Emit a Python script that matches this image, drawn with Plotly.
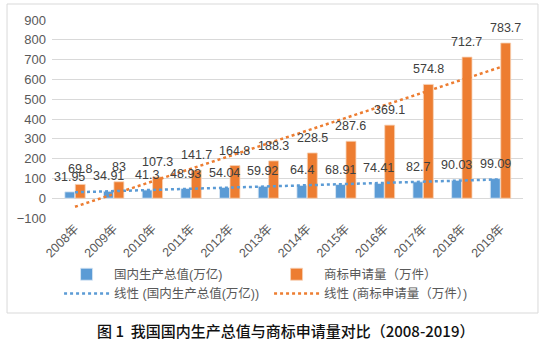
import numpy as np
import plotly.graph_objects as go

years = ["2008年", "2009年", "2010年", "2011年", "2012年", "2013年",
         "2014年", "2015年", "2016年", "2017年", "2018年", "2019年"]
gdp = [31.95, 34.91, 41.3, 48.93, 54.04, 59.92, 64.4, 68.91, 74.41, 82.7, 90.03, 99.09]
tm = [69.8, 83, 107.3, 141.7, 164.8, 188.3, 228.5, 287.6, 369.1, 574.8, 712.7, 783.7]
gdp_labels = ["31.95", "34.91", "41.3", "48.93", "54.04", "59.92", "64.4", "68.91", "74.41", "82.7", "90.03", "99.09"]
tm_labels = ["69.8", "83", "107.3", "141.7", "164.8", "188.3", "228.5", "287.6", "369.1", "574.8", "712.7", "783.7"]

name_gdp = "国内生产总值(万亿)"
name_tm = "商标申请量（万件）"
caption = "图 1  我国国内生产总值与商标申请量对比（2008-2019）"

BLUE = "#5B9BD5"
ORANGE = "#ED7D31"
FONT = "Liberation Sans, Noto Sans CJK SC, sans-serif"

idx = np.arange(1, len(years) + 1)
gdp_fit = np.polyval(np.polyfit(idx, gdp, 1), idx)
tm_fit = np.polyval(np.polyfit(idx, tm, 1), idx)

fig = go.Figure()
fig.add_trace(go.Bar(x=years, y=gdp, name=name_gdp, marker=dict(color=BLUE, line=dict(color="#dce9f5", width=0.8))))
fig.add_trace(go.Bar(x=years, y=tm, name=name_tm, marker=dict(color=ORANGE, line=dict(color="#f8d3b8", width=0.8))))
fig.add_trace(go.Scatter(x=years, y=gdp_fit, mode="lines", name="线性 (" + name_gdp + ")",
                         line=dict(color=BLUE, width=2.5, dash="dot")))
fig.add_trace(go.Scatter(x=years, y=tm_fit, mode="lines", name="线性 (" + name_tm + ")",
                         line=dict(color=ORANGE, width=2.5, dash="dot")))

annotations = []
for yr, v, t in zip(years, gdp, gdp_labels):
    annotations.append(dict(x=yr, y=v, text=t, showarrow=False, xshift=-5.5, yshift=15,
                            yanchor="middle", font=dict(size=12.5, color="#404040", family=FONT)))
for yr, v, t in zip(years, tm, tm_labels):
    annotations.append(dict(x=yr, y=v, text=t, showarrow=False, xshift=5, yshift=15,
                            yanchor="middle", font=dict(size=12.5, color="#404040", family=FONT)))
annotations.append(dict(x=0.4947, y=-0.5657, xref="paper", yref="paper", text=caption, showarrow=False,
                        xanchor="center", yanchor="middle",
                        font=dict(size=15, color="#111111", family="Noto Sans CJK SC", weight=500)))

fig.update_layout(
    width=552, height=357,
    margin=dict(l=52, r=29, t=20, b=139, autoexpand=False),
    paper_bgcolor="white", plot_bgcolor="white",
    barmode="group", bargap=0.46, bargroupgap=0.05,
    font=dict(family=FONT, color="#595959", size=12),
    showlegend=True,
    legend=dict(orientation="h", x=0.015, y=-0.21, xanchor="left", yanchor="top",
                entrywidth=150, itemwidth=45, traceorder="normal",
                font=dict(size=12.5, color="#595959", family=FONT), tracegroupgap=0),
    annotations=annotations,
    shapes=[dict(type="rect", xref="paper", yref="paper", x0=-0.0955, x1=1.0318, y0=-0.4798, y1=1.0808,
                 line=dict(color="#d9d9d9", width=1), fillcolor="rgba(0,0,0,0)", layer="below")],
)
fig.update_xaxes(tickangle=-45, showgrid=False, showline=False, ticks="", automargin=False,
                 tickfont=dict(size=12.5, color="#595959", family=FONT))
fig.update_yaxes(range=[-100, 900], dtick=100, showgrid=True, gridcolor="#d9d9d9", gridwidth=1,
                 zeroline=True, zerolinecolor="#d9d9d9", zerolinewidth=1, showline=False, automargin=False,
                 ticklabelstandoff=5,
                 tickfont=dict(size=13, color="#595959", family=FONT), ticks="")

fig.write_html("out.html", config={"displayModeBar": False},
               post_script="document.body.style.margin='0px';document.body.style.overflow='hidden';")
